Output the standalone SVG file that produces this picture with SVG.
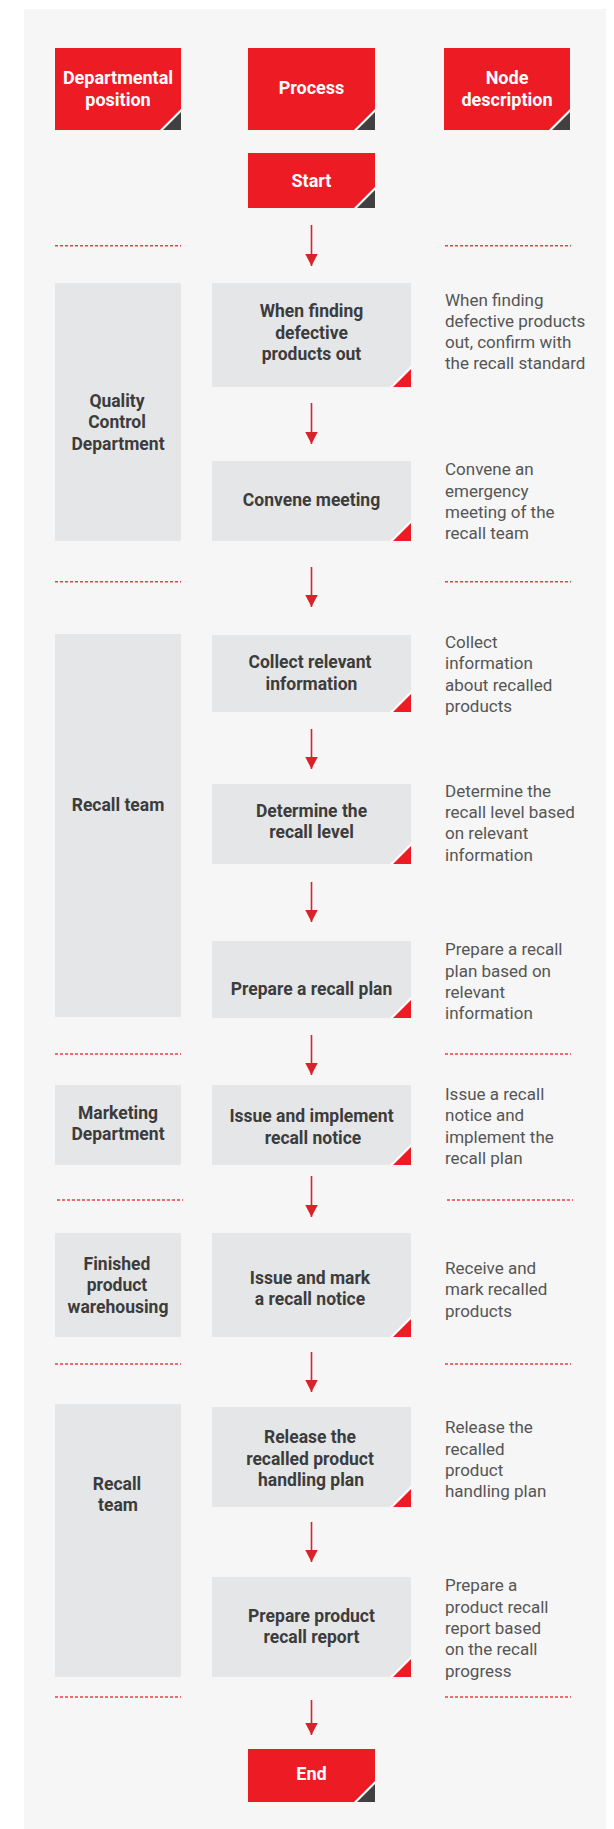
<svg xmlns="http://www.w3.org/2000/svg" xmlns:xlink="http://www.w3.org/1999/xlink" width="614" height="1829" viewBox="0 0 614 1829">
<style>
.panel{fill:#f6f6f6}
.hdr{fill:#ed1c24}
.box{fill:#e5e6e8}
.t{font-family:Roboto,"Liberation Sans",Arial,sans-serif;font-size:17.5px;font-weight:700;text-anchor:middle}
.tw{fill:#ffffff;font-size:18px}
.td{fill:#3c3c3c}
.desc{font-family:Roboto,"Liberation Sans",Arial,sans-serif;font-size:17px;font-weight:400;fill:#555555}
.dash{stroke:#ee3d46;stroke-width:1.6;stroke-dasharray:3 2;fill:none}
.arr{stroke:#d9232b;stroke-width:1.6;fill:none}
</style>
<defs>
<marker id="ah" markerUnits="userSpaceOnUse" markerWidth="13" markerHeight="13" refX="12.5" refY="6.5" orient="auto">
<path d="M0,0 L12.5,6.5 L0,13 z" fill="#d9232b"/>
</marker>
<g id="cornerDark"><polygon points="-21,0 0,-21 0,0" fill="#ffffff"/><polygon points="-18,0 0,-18 0,0" fill="#404040"/></g>
<g id="cornerRed"><polygon points="-21,0 0,-21 0,0" fill="#ffffff"/><polygon points="-18,0 0,-18 0,0" fill="#ed1c24"/></g>
</defs>
<rect class="panel" x="24" y="9" width="582" height="1820"/>

<g id="hdr-dept"><rect class="hdr" x="55" y="48" width="126" height="82"/><use href="#cornerDark" x="181" y="130"/><text class="t tw" x="118" y="84">Departmental</text><text class="t tw" x="118" y="105.5">position</text></g>
<g id="hdr-process"><rect class="hdr" x="248" y="48" width="127" height="82"/><use href="#cornerDark" x="375" y="130"/><text class="t tw" x="311.5" y="94">Process</text></g>
<g id="hdr-desc"><rect class="hdr" x="444" y="48" width="126" height="82"/><use href="#cornerDark" x="570" y="130"/><text class="t tw" x="507" y="84">Node</text><text class="t tw" x="507" y="105.5">description</text></g>

<g id="start"><rect class="hdr" x="248" y="153" width="127" height="55"/><use href="#cornerDark" x="375" y="208"/><text class="t tw" x="311.5" y="187">Start</text></g>

<g id="separators">
<line class="dash" x1="55" y1="245.7" x2="181" y2="245.7"/><line class="dash" x1="445" y1="245.7" x2="571" y2="245.7"/>
<line class="dash" x1="55" y1="581.7" x2="181" y2="581.7"/><line class="dash" x1="445" y1="581.7" x2="571" y2="581.7"/>
<line class="dash" x1="55" y1="1054" x2="181" y2="1054"/><line class="dash" x1="445" y1="1054" x2="571" y2="1054"/>
<line class="dash" x1="57" y1="1200" x2="183" y2="1200"/><line class="dash" x1="447" y1="1200" x2="573" y2="1200"/>
<line class="dash" x1="55" y1="1364" x2="181" y2="1364"/><line class="dash" x1="445" y1="1364" x2="571" y2="1364"/>
<line class="dash" x1="55" y1="1697" x2="181" y2="1697"/><line class="dash" x1="445" y1="1697" x2="571" y2="1697"/>
</g>

<g id="lane-qc"><rect class="box" x="55" y="283" width="126" height="258"/><text class="t td" x="117" y="406.5">Quality</text><text class="t td" x="117" y="428">Control</text><text class="t td" x="118" y="449.5">Department</text></g>
<g id="lane-recall1"><rect class="box" x="55" y="634" width="126" height="383"/><text class="t td" x="118" y="811">Recall team</text></g>
<g id="lane-marketing"><rect class="box" x="55" y="1085" width="126" height="80"/><text class="t td" x="118" y="1119.3">Marketing</text><text class="t td" x="118" y="1140">Department</text></g>
<g id="lane-finished"><rect class="box" x="55" y="1233" width="126" height="104"/><text class="t td" x="117" y="1270">Finished</text><text class="t td" x="117" y="1291">product</text><text class="t td" x="118" y="1312.5">warehousing</text></g>
<g id="lane-recall2"><rect class="box" x="55" y="1404" width="126" height="273"/><text class="t td" x="117" y="1490">Recall</text><text class="t td" x="118" y="1511">team</text></g>

<g id="n1"><rect class="box" x="212" y="283" width="199" height="104"/><use href="#cornerRed" x="411" y="387"/><text class="t td" x="311.5" y="317">When finding</text><text class="t td" x="311.5" y="338.5">defective</text><text class="t td" x="311.5" y="360">products out</text></g>
<g id="n2"><rect class="box" x="212" y="461" width="199" height="80"/><use href="#cornerRed" x="411" y="541"/><text class="t td" x="311.5" y="505.7">Convene meeting</text></g>
<g id="n3"><rect class="box" x="212" y="635" width="199" height="77"/><use href="#cornerRed" x="411" y="712"/><text class="t td" x="310" y="668.3">Collect relevant</text><text class="t td" x="311.5" y="690">information</text></g>
<g id="n4"><rect class="box" x="212" y="784" width="199" height="80"/><use href="#cornerRed" x="411" y="864"/><text class="t td" x="311.5" y="816.7">Determine the</text><text class="t td" x="311.5" y="838.3">recall level</text></g>
<g id="n5"><rect class="box" x="212" y="941" width="199" height="77"/><use href="#cornerRed" x="411" y="1018"/><text class="t td" x="311.5" y="995">Prepare a recall plan</text></g>
<g id="n6"><rect class="box" x="212" y="1085" width="199" height="80"/><use href="#cornerRed" x="411" y="1165"/><text class="t td" x="311.5" y="1122.3">Issue and implement</text><text class="t td" x="313" y="1144">recall notice</text></g>
<g id="n7"><rect class="box" x="212" y="1233" width="199" height="104"/><use href="#cornerRed" x="411" y="1337"/><text class="t td" x="310" y="1284.3">Issue and mark</text><text class="t td" x="310" y="1305">a recall notice</text></g>
<g id="n8"><rect class="box" x="212" y="1407" width="199" height="100"/><use href="#cornerRed" x="411" y="1507"/><text class="t td" x="310" y="1443.3">Release the</text><text class="t td" x="310" y="1464.5">recalled product</text><text class="t td" x="311" y="1486">handling plan</text></g>
<g id="n9"><rect class="box" x="212" y="1577" width="199" height="100"/><use href="#cornerRed" x="411" y="1677"/><text class="t td" x="311.5" y="1622.3">Prepare product</text><text class="t td" x="311.5" y="1643.3">recall report</text></g>

<g id="end"><rect class="hdr" x="248" y="1749" width="127" height="53"/><use href="#cornerDark" x="375" y="1802"/><text class="t tw" x="311.5" y="1780">End</text></g>

<g id="d1" class="desc"><text x="445" y="305.7">When finding</text><text x="445" y="327">defective products</text><text x="445" y="348">out, confirm with</text><text x="445" y="369">the recall standard</text></g>
<g id="d2" class="desc"><text x="445" y="475">Convene an</text><text x="445" y="496.5">emergency</text><text x="445" y="517.7">meeting of the</text><text x="445" y="538.7">recall team</text></g>
<g id="d3" class="desc"><text x="445" y="648.3">Collect</text><text x="445" y="669.3">information</text><text x="445" y="690.7">about recalled</text><text x="445" y="712">products</text></g>
<g id="d4" class="desc"><text x="445" y="797.3">Determine the</text><text x="445" y="818.3">recall level based</text><text x="445" y="839.3">on relevant</text><text x="445" y="860.7">information</text></g>
<g id="d5" class="desc"><text x="445" y="955">Prepare a recall</text><text x="445" y="976.7">plan based on</text><text x="445" y="998">relevant</text><text x="445" y="1019.3">information</text></g>
<g id="d6" class="desc"><text x="445" y="1100">Issue a recall</text><text x="445" y="1121">notice and</text><text x="445" y="1142.7">implement the</text><text x="445" y="1164">recall plan</text></g>
<g id="d7" class="desc"><text x="445" y="1274.3">Receive and</text><text x="445" y="1295.3">mark recalled</text><text x="445" y="1316.7">products</text></g>
<g id="d8" class="desc"><text x="445" y="1433.3">Release the</text><text x="445" y="1455">recalled</text><text x="445" y="1476">product</text><text x="445" y="1497.3">handling plan</text></g>
<g id="d9" class="desc"><text x="445" y="1591">Prepare a</text><text x="445" y="1613.3">product recall</text><text x="445" y="1634.3">report based</text><text x="445" y="1655.3">on the recall</text><text x="445" y="1676.7">progress</text></g>

<g id="connectors">
<line class="arr" x1="311.5" y1="225" x2="311.5" y2="266" marker-end="url(#ah)"/>
<line class="arr" x1="311.5" y1="403" x2="311.5" y2="444" marker-end="url(#ah)"/>
<line class="arr" x1="311.5" y1="567" x2="311.5" y2="607" marker-end="url(#ah)"/>
<line class="arr" x1="311.5" y1="729" x2="311.5" y2="769" marker-end="url(#ah)"/>
<line class="arr" x1="311.5" y1="882" x2="311.5" y2="922" marker-end="url(#ah)"/>
<line class="arr" x1="311.5" y1="1035" x2="311.5" y2="1075" marker-end="url(#ah)"/>
<line class="arr" x1="311.5" y1="1176" x2="311.5" y2="1217" marker-end="url(#ah)"/>
<line class="arr" x1="311.5" y1="1352" x2="311.5" y2="1392" marker-end="url(#ah)"/>
<line class="arr" x1="311.5" y1="1522" x2="311.5" y2="1562" marker-end="url(#ah)"/>
<line class="arr" x1="311.5" y1="1700" x2="311.5" y2="1735" marker-end="url(#ah)"/>
</g>
</svg>
